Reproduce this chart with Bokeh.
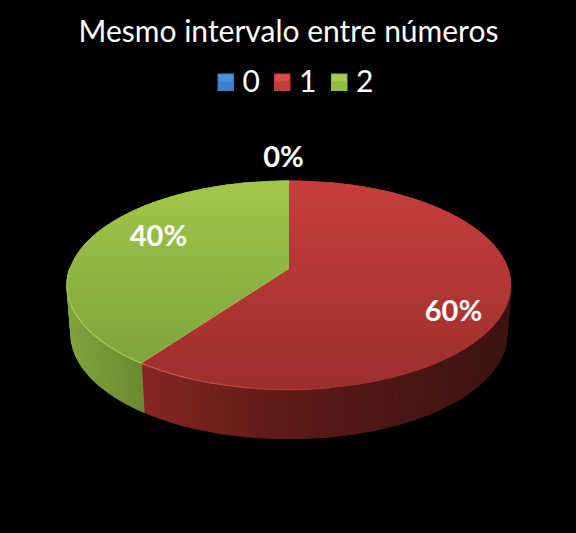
import numpy as np
from bokeh.embed import file_html
from bokeh.models import Range1d
from bokeh.plotting import figure
from bokeh.resources import INLINE
from bokeh.core.properties import value

# ---- chart data
title_text = "Mesmo intervalo entre números"
categories = ["0", "1", "2"]
percent = [0, 60, 40]

# ---- styling / layout (gradient stops are keyed by screen y)
top_stops = {"1": [(180, "#c63e3c"), (265, "#b43836"), (389, "#9e2f2d")],
             "2": [(180, "#a2c84a"), (265, "#90b644"), (363, "#7fa33c")],
             "0": [(180, "#3f7fcc"), (389, "#2f66a8")]}
side_stops = {"1": [(143, "#842623"), (290, "#5b1a18"), (510, "#3c1411")],
              "2": [(67, "#82a240"), (146, "#6b8a30")],
              "0": [(0, "#2f66a8"), (600, "#2f66a8")]}
rim_stops = {"1": [(143, "#d8625a"), (260, "#b04440"), (330, "#a53230")],
             "2": [(67, "#a8cc58"), (146, "#aed060")],
             "0": [(0, "#3f7fcc"), (600, "#3f7fcc")]}
swatch_stops = {"0": ("#4a90e2", "#2f6bb5"), "1": ("#d84c4a", "#a83230"), "2": ("#a8ce50", "#7fa53c")}
CX, APEX_Y, R, Q, K = 288.5, 268.0, 219.2, 102.0, 0.158
DEPTH, SHRINK = 49.0, 0.982
BAND = 2.0
FONT = value("Lato")


def hex_rgb(h):
    return np.array([int(h[i:i + 2], 16) for i in (1, 3, 5)], float)


def mix(stops, x):
    xs = [s[0] for s in stops]
    cs = np.array([hex_rgb(s[1]) for s in stops])
    rgb = [np.interp(x, xs, cs[:, i]) for i in range(3)]
    return "#%02x%02x%02x" % tuple(int(round(c)) for c in rgb)


def project(theta):
    u, v = np.sin(theta), np.cos(theta)
    d = 1 + K * v
    return CX + R * u / d, APEX_Y - Q * v / d


def lower(x, y):
    return CX + (x - CX) * SHRINK, y + DEPTH


def row_extent(px, py, y):
    found = []
    for i in range(len(px) - 1):
        if (py[i] - y) * (py[i + 1] - y) <= 0 and py[i] != py[i + 1]:
            found.append(px[i] + (y - py[i]) / (py[i + 1] - py[i]) * (px[i + 1] - px[i]))
    return (min(found), max(found)) if len(found) >= 2 else None


p = figure(width=576, height=533, output_backend="svg", toolbar_location=None,
           x_range=Range1d(0, 576), y_range=Range1d(533, 0), min_border=0,
           background_fill_color="#000000", border_fill_color="#000000", outline_line_color=None)
p.axis.visible = False
p.grid.visible = False

# slice angle ranges, clockwise from the top
total = sum(percent)
edges = np.cumsum([0] + percent) / total * 2 * np.pi
spans = {c: (edges[i], edges[i + 1]) for i, c in enumerate(categories)}

# side wall
for c in categories:
    a, b = spans[c]
    if b - a < 1e-6:
        continue
    lo, hi = max(a, np.pi / 2), min(b, 1.5 * np.pi)
    if hi <= lo:
        continue
    th = np.linspace(lo, hi, int((hi - lo) * 40) + 2)
    xs, ys, cols = [], [], []
    for t0, t1 in zip(th[:-1], th[1:]):
        x0, y0 = project(t0)
        x1, y1 = project(t1)
        bx0, by0 = lower(x0, y0)
        bx1, by1 = lower(x1, y1)
        xs.append([x0, x1, bx1, bx0])
        ys.append([y0, y1, by1, by0])
        cols.append(mix(side_stops[c], (x0 + x1) / 2))
    p.patches(xs, ys, fill_color=cols, line_color=cols, line_width=1.2, fill_alpha=1.0, line_alpha=1.0)

# top face: solid base plus a vertical gradient made of trapezoid bands
for c in categories:
    a, b = spans[c]
    if b - a < 1e-6:
        continue
    th = np.linspace(a, b, 600)
    px, py = project(th)
    px = np.r_[CX, px, CX]
    py = np.r_[APEX_Y, py, APEX_Y]
    p.patch(px, py, fill_color=mix(top_stops[c], (py.min() + py.max()) / 2), fill_alpha=1.0, line_color=None)
    bxs, bys, cols = [], [], []
    for y in np.arange(py.min(), py.max(), BAND):
        y1 = min(y + BAND, py.max())
        mid = row_extent(px, py, (y + y1) / 2)
        if mid is None:
            continue
        e0 = row_extent(px, py, y + 0.01) or mid
        e1 = row_extent(px, py, y1 - 0.01) or mid
        # run 0.6 px further down, along the same edges, so bands overlap
        e2 = row_extent(px, py, min(y1 + 0.6, py.max() - 0.01)) or e1
        bxs.append([e0[0], e0[1], e2[1], e2[0]])
        bys.append([y, y, min(y1 + 0.6, py.max()), min(y1 + 0.6, py.max())])
        cols.append(mix(top_stops[c], (y + y1) / 2))
    p.patches(bxs, bys, fill_color=cols, fill_alpha=1.0, line_color=None)
    # highlight along the front rim
    tt = np.linspace(a, b, 240)
    ex, ey = project(tt)
    seg_x, seg_y, seg_c = [], [], []
    for i in range(len(tt) - 1):
        xm, ym = (ex[i] + ex[i + 1]) / 2, (ey[i] + ey[i + 1]) / 2
        if np.pi / 2 < tt[i] < 1.5 * np.pi and xm < 330:
            seg_x.append([ex[i], ex[i + 1]])
            seg_y.append([ey[i], ey[i + 1]])
            seg_c.append(mix(rim_stops[c], xm))
    p.multi_line(seg_x, seg_y, line_color=seg_c, line_width=1.2)

# seam between the two visible slices
bx, by = project(spans["1"][1])
p.line([CX, bx], [APEX_Y, by], line_color="#a6c850", line_width=1, line_alpha=0.7)

# data labels (placed along each slice; the empty slice sits above the rim)
label_pos = {"0": (283, 155), "1": (453, 309), "2": (158, 234)}
for c, v in zip(categories, percent):
    lx, ly = label_pos[c]
    p.text([lx], [ly], text=[f"{v}%"], text_color="#ffffff", text_font=FONT, text_font_style="bold",
           text_font_size="29px", text_align="center", text_baseline="middle")

# title
p.text([288], [29], text=[title_text], text_color="#ffffff", text_font=FONT, text_font_size="30px",
       text_align="center", text_baseline="middle")

# legend
swatch_x = {"0": 217, "1": 273.5, "2": 330.5}
for c in categories:
    x0 = swatch_x[c]
    p.quad(left=[x0], right=[x0 + 16.5], top=[73], bottom=[90.5],
           fill_color=mix([(0, swatch_stops[c][1]), (1, swatch_stops[c][0])], 0.5), fill_alpha=1.0, line_color=None)
    p.quad(left=[x0 + 1.5], right=[x0 + 15], top=[74], bottom=[81],
           fill_color=swatch_stops[c][0], fill_alpha=1.0, line_color=None)
    p.text([x0 + 25], [80], text=[c], text_color="#ffffff", text_font=FONT, text_font_size="30px",
           text_align="left", text_baseline="middle")

html = file_html(p, INLINE)
html = html.replace("<head>", "<head><style>html,body{background:#000000}</style>", 1)
open("out.html", "w").write(html)
